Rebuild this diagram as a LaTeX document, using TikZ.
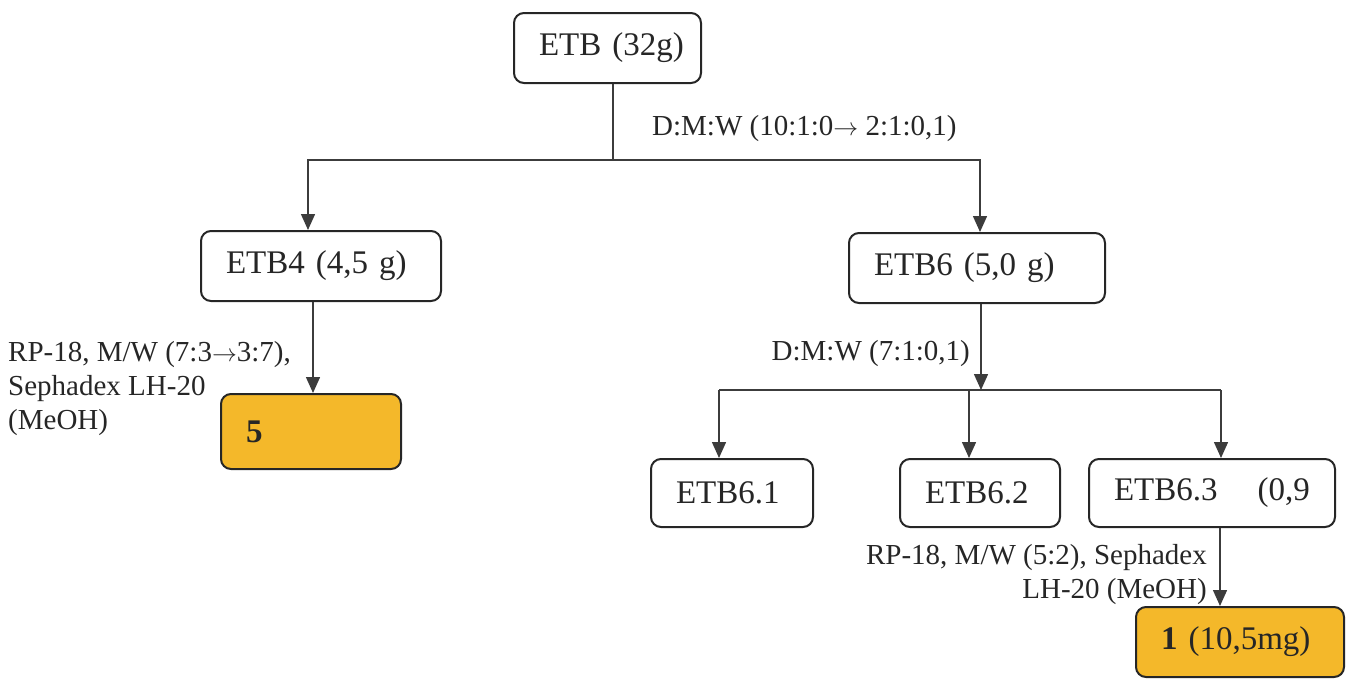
\documentclass[tikz,border=0pt]{standalone}
\usepackage{fontspec}
\setmainfont{Liberation Serif}
\usetikzlibrary{arrows.meta}
\definecolor{gold}{RGB}{244,184,42}
\definecolor{ink}{RGB}{38,38,38}
\definecolor{wire}{RGB}{60,60,60}
\begin{document}
\begin{tikzpicture}[x=1pt,y=-1pt,
  box/.style={draw=ink, line width=2pt, rounded corners=10pt, fill=white,
    anchor=north west, inner xsep=25pt, inner ysep=0pt, align=left,
    text=ink, font=\fontsize{33}{37}\selectfont},
  hit/.style={box, fill=gold},
  lbl/.style={inner sep=0pt, text=ink, font=\fontsize{29}{34}\selectfont},
  conn/.style={draw=wire, line width=1.5pt},
  arr/.style={conn, -{Triangle[length=16pt,width=14pt]}}]
\useasboundingbox (0,0) rectangle (1354,680);

% boxes
\node[box, text width=137pt, minimum height=70pt] (etb) at (513,12) {\mbox{ETB (32g)}};
\node[box, text width=190pt, minimum height=70pt] (etb4) at (200,230) {\mbox{ETB4 (4,5 g)}};
\node[box, text width=206pt, minimum height=70pt] (etb6) at (848,232) {\mbox{ETB6 (5,0 g)}};
\node[hit, text width=130pt, minimum height=75pt] (b5) at (220,393) {\mbox{\textbf{5}}};
\node[box, text width=112pt, minimum height=68pt] (e61) at (650,458) {\mbox{ETB6.1}};
\node[box, text width=110pt, minimum height=68pt] (e62) at (899,458) {\mbox{ETB6.2}};
\node[box, text width=196pt, minimum height=68pt] (e63) at (1088,458) {\mbox{ETB6.3\hspace{40pt}(0,9}};
\node[hit, text width=158pt, minimum height=70pt] (b1) at (1135,606) {\mbox{\textbf{1} (10,5mg)}};

% labels
\node[lbl, anchor=base west] (l1) at (652,135) {D:M:W (10:1:0$\rightarrow$ 2:1:0,1)};
\node[lbl, anchor=base east] (l2) at (970,360) {D:M:W (7:1:0,1)};
\node[lbl, anchor=west, align=left] (l3) at (8,389) {RP-18, M/W (7:3$\rightarrow$3:7),\\Sephadex LH-20\\(MeOH)};
\node[lbl, anchor=east, align=right] (l4) at (1207,575) {RP-18, M/W (5:2), Sephadex\\LH-20 (MeOH)};

% connectors
\coordinate (j1) at (613,160);
\coordinate (t4) at (308,0);
\coordinate (t6) at (980,0);
\draw[conn] (etb.south -| j1) -- (j1);
\draw[arr] (j1) -| (etb4.north -| t4);
\draw[arr] (j1) -| (etb6.north -| t6);

\coordinate (c4) at (313,0);
\draw[arr] (etb4.south -| c4) -- (b5.north -| c4);

\coordinate (j2) at (981,390);
\draw[arr] (etb6.south -| j2) -- (j2);
\coordinate (h1) at (719,390);
\coordinate (h2) at (969,390);
\coordinate (h3) at (1221,390);
\draw[conn] (h1) -- (h3);
\draw[arr] (h1) -- (e61.north -| h1);
\draw[arr] (h2) -- (e62.north -| h2);
\draw[arr] (h3) -- (e63.north -| h3);

\coordinate (c63) at (1220,0);
\draw[arr] (e63.south -| c63) -- (b1.north -| c63);
\end{tikzpicture}
\end{document}
